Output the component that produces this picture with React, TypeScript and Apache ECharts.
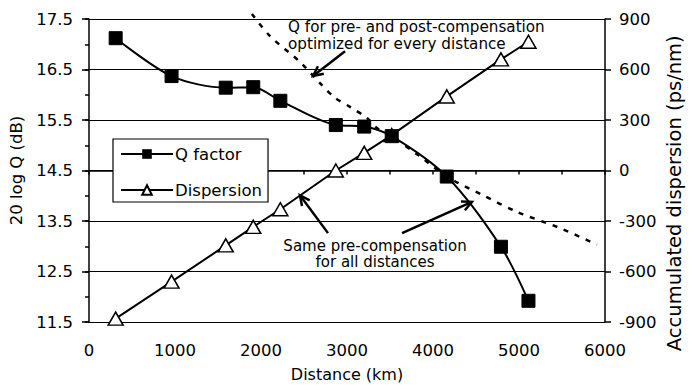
import React, { useEffect, useRef } from 'react';
import * as echarts from 'echarts';

// Shared distances (km) of the measured points
const distances = [310, 960, 1590, 1910, 2225, 2870, 3200, 3520, 4160, 4790, 5110];
// 20 log Q (dB)
const qFactor = [17.12, 16.37, 16.14, 16.15, 15.88, 15.4, 15.37, 15.18, 14.38, 12.99, 11.92];
// Accumulated dispersion (ps/nm)
const dispersion = [-880, -660, -445, -335, -230, 0, 105, 210, 440, 660, 765];
// Q for pre- and post-compensation optimized for every distance (dashed)
const optDistances = [1895, 2105, 2453, 2686, 2860, 3035, 3233, 3349, 3512, 3840, 4160, 4581, 4977, 5477, 5907];
const optQ = [17.6, 17.16, 16.65, 16.23, 15.94, 15.76, 15.54, 15.34, 15.18, 14.79, 14.38, 14.01, 13.68, 13.36, 13.03];

const xTicks = { min: 0, max: 6000, step: 500, labelStep: 1000 };
const qTicks = { min: 11.5, max: 17.5, step: 0.5 };
const dTicks = { min: -900, max: 900, step: 300 };

const FONT = '"DejaVu Sans", Verdana, sans-serif';

export default function App() {
  const ref = useRef<HTMLDivElement>(null);
  useEffect(() => {
    const chart = echarts.init(ref.current!, null, { renderer: 'svg' });
    const axisLine = { show: true, lineStyle: { color: '#000', width: 1.5 } };
    chart.setOption({
      animation: false,
      backgroundColor: '#fff',
      textStyle: { fontFamily: FONT, color: '#000' },
      grid: { left: 89, right: 89, top: 19, bottom: 63, containLabel: false, outerBoundsMode: 'none' },
      legend: {
        data: ['Q factor', 'Dispersion'],
        orient: 'vertical',
        left: 113,
        top: 139,
        padding: [5, 6, 2, 7],
        itemGap: 16,
        itemWidth: 52,
        itemHeight: 12,
        backgroundColor: '#fff',
        borderColor: '#000',
        borderWidth: 1.2,
        borderRadius: 0,
        textStyle: { fontFamily: FONT, fontSize: 16.5, color: '#000', lineHeight: 20, padding: [0, 0, 0, -3] },
      },
      xAxis: {
        type: 'value',
        min: xTicks.min,
        max: xTicks.max,
        interval: xTicks.step,
        name: 'Distance (km)',
        nameLocation: 'middle',
        nameGap: 44,
        nameTextStyle: { fontFamily: FONT, fontSize: 16, color: '#000' },
        axisLine,
        axisTick: { show: true, length: 4, lineStyle: { color: '#000', width: 1.5 } },
        axisLabel: {
          fontFamily: FONT,
          fontSize: 16.5,
          color: '#000',
          margin: 20,
          formatter: (v: number) => (v % xTicks.labelStep === 0 ? String(v) : ''),
        },
        splitLine: { show: false },
      },
      yAxis: [
        {
          type: 'value',
          position: 'left',
          min: qTicks.min,
          max: qTicks.max,
          interval: qTicks.step,
          name: '20 log Q (dB)',
          nameLocation: 'middle',
          nameRotate: 90,
          nameGap: 58,
          nameTextStyle: { fontFamily: FONT, fontSize: 16.5, color: '#000' },
          axisLine,
          axisTick: { show: true, length: 4, lineStyle: { color: '#000', width: 1.5 } },
          axisLabel: {
            fontFamily: FONT,
            fontSize: 16.5,
            color: '#000',
            margin: 16,
            formatter: (v: number) =>
              Math.abs(((v - qTicks.min) % 1 + 1) % 1) < 1e-6 ? v.toFixed(1) : '',
          },
          splitLine: { show: false },
        },
        {
          type: 'value',
          position: 'right',
          min: dTicks.min,
          max: dTicks.max,
          interval: dTicks.step,
          axisLine,
          axisTick: { show: true, length: 6, lineStyle: { color: '#000', width: 1.5 } },
          axisLabel: { fontFamily: FONT, fontSize: 16.5, color: '#000', margin: 14 },
          splitLine: { show: true, lineStyle: { color: '#000', width: 1.2 } },
        },
        {
          // major ticks on the left side (aligned with 11.5, 12.5, ... 17.5)
          type: 'value',
          position: 'left',
          min: dTicks.min,
          max: dTicks.max,
          interval: dTicks.step,
          axisLine: { show: false },
          axisTick: { show: true, length: 7, lineStyle: { color: '#000', width: 1.5 } },
          axisLabel: { show: false },
          splitLine: { show: false },
        },
      ],
      series: [
        {
          name: 'Optimized',
          type: 'line',
          yAxisIndex: 0,
          data: optDistances.map((d, i) => [d, optQ[i]]),
          showSymbol: false,
          symbol: 'none',
          smooth: 0.3,
          clip: false,
          lineStyle: { color: '#000', width: 2.5, type: [5, 7] },
          z: 1,
        },
        {
          name: 'Q factor',
          type: 'line',
          yAxisIndex: 0,
          data: distances.map((d, i) => [d, qFactor[i]]),
          symbol: 'rect',
          symbolSize: 13,
          smooth: 0.3,
          itemStyle: { color: '#000', borderColor: '#000' },
          lineStyle: { color: '#000', width: 2 },
          z: 3,
        },
        {
          name: 'Dispersion',
          type: 'line',
          yAxisIndex: 1,
          data: distances.map((d, i) => [d, dispersion[i]]),
          symbol: 'triangle',
          symbolSize: [15, 13],
          itemStyle: { color: '#fff', borderColor: '#000', borderWidth: 1.5 },
          lineStyle: { color: '#000', width: 2 },
          z: 2,
        },
      ],
    });

    const px = (p: number[]) => chart.convertToPixel({ xAxisIndex: 0, yAxisIndex: 0 }, p) as number[];
    const arrow = (tail: number[], tip: number[]) => {
      const a = px(tail);
      const b = px(tip);
      const ang = Math.atan2(a[1] - b[1], a[0] - b[0]);
      const L = 11;
      const sp = 0.45;
      const h1 = [b[0] + L * Math.cos(ang + sp), b[1] + L * Math.sin(ang + sp)];
      const h2 = [b[0] + L * Math.cos(ang - sp), b[1] + L * Math.sin(ang - sp)];
      return [
        { type: 'line', shape: { x1: a[0], y1: a[1], x2: b[0], y2: b[1] }, style: { stroke: '#000', lineWidth: 2.5 }, z: 10 },
        { type: 'polyline', shape: { points: [h1, b, h2] }, style: { stroke: '#000', lineWidth: 2.5, fill: null }, z: 10 },
      ];
    };
    const t1 = px([2314, 17.5]);
    const t2 = px([3326, 13.17]);
    const titleR = px([6810, 14.05]);

    chart.setOption({
      graphic: [
        {
          type: 'text',
          x: t1[0],
          y: t1[1],
          z: 10,
          style: {
            text: 'Q for pre- and post-compensation\noptimized for every distance',
            font: `15.2px ${FONT}`,
            fill: '#000',
            align: 'left',
            verticalAlign: 'top',
            lineHeight: 16.5,
          },
        },
        {
          type: 'text',
          x: t2[0],
          y: t2[1],
          z: 10,
          style: {
            text: 'Same pre-compensation\nfor all distances',
            font: `15px ${FONT}`,
            fill: '#000',
            align: 'center',
            verticalAlign: 'top',
            lineHeight: 16.5,
          },
        },
        {
          type: 'text',
          x: titleR[0],
          y: titleR[1],
          rotation: Math.PI / 2,
          style: {
            text: 'Accumulated dispersion (ps/nm)',
            font: `19.5px ${FONT}`,
            fill: '#000',
            align: 'center',
            verticalAlign: 'middle',
          },
        },
        ...arrow([2977, 16.86], [2605, 16.37]),
        ...arrow([2779, 13.26], [2453, 14.01]),
        ...arrow([3640, 13.26], [4453, 13.88]),
      ],
    });
    return () => chart.dispose();
  }, []);
  return <div ref={ref} style={{ position: 'absolute', left: 0, top: 0, width: 694, height: 385 }} />;
}
